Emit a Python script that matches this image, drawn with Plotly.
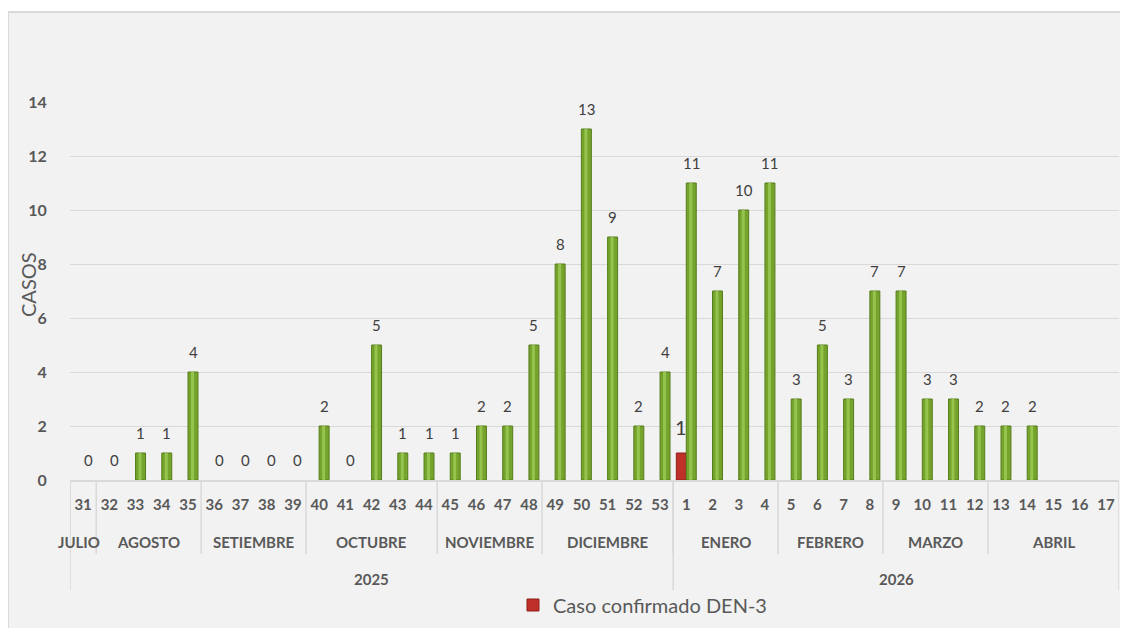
import plotly.graph_objects as go

# ---------------- data ----------------
weeks = ["31", "32", "33", "34", "35", "36", "37", "38", "39", "40", "41", "42",
         "43", "44", "45", "46", "47", "48", "49", "50", "51", "52", "53",
         "1", "2", "3", "4", "5", "6", "7", "8", "9", "10", "11", "12",
         "13", "14", "15", "16", "17"]
casos = [0, 0, 1, 1, 4, 0, 0, 0, 0, 2, 0, 5, 1, 1, 1, 2, 2, 5, 8, 13, 9, 2, 4,
         11, 7, 10, 11, 3, 5, 3, 7, 7, 3, 3, 2, 2, 2, None, None, None]
den3_weeks = ["1"]
den3_values = [1]
den3_name = "Caso confirmado DEN-3"

month_names = ["JULIO", "AGOSTO", "SETIEMBRE", "OCTUBRE", "NOVIEMBRE",
               "DICIEMBRE", "ENERO", "FEBRERO", "MARZO", "ABRIL"]
month_week_counts = [1, 4, 4, 5, 4, 5, 4, 4, 4, 5]
year_names = ["2025", "2026"]
year_week_counts = [23, 17]

y_ticks = [0, 2, 4, 6, 8, 10, 12, 14]

# ---------------- styling ----------------
FONT = "Lato"
GREEN = "#76a32c"
GREEN_EDGE = "#557d1c"
GREEN_HI = "#95c44e"
RED = "#c0302a"
GRID = "#d9d9d9"
TXT = "#595959"
LBL = "#404040"
BW = 0.38  # bar width in category units

# no outline on empty (zero) bars
edge_widths = [1 if v else 0 for v in casos]

fig = go.Figure()

# DEN-3 (red) bar, left of the category centre
fig.add_trace(go.Bar(
    x=den3_weeks, y=den3_values, name=den3_name,
    offset=-BW, width=BW,
    marker=dict(color=RED, line=dict(color="#8e1f1a", width=1)),
    showlegend=True, hoverinfo="x+y",
))

# main green bars
fig.add_trace(go.Bar(
    x=weeks, y=casos, name="Casos",
    offset=0, width=BW,
    marker=dict(color=GREEN, line=dict(color=GREEN_EDGE, width=edge_widths)),
    showlegend=False, hoverinfo="x+y",
))
# highlight stripe for the cylindrical look
fig.add_trace(go.Bar(
    x=weeks, y=casos, name="Casos",
    offset=BW * 0.3, width=BW * 0.3,
    marker=dict(color=GREEN_HI, line=dict(width=0)),
    showlegend=False, hoverinfo="skip",
))

annotations = []
# data labels for green bars (numeric category index positions)
for i, v in enumerate(casos):
    if v is None:
        continue
    annotations.append(dict(
        x=i, y=v, xref="x", yref="y", text=str(v), showarrow=False,
        xshift=5, yshift=20, yanchor="middle",
        font=dict(family=FONT, size=15, color=LBL)))
# data label for red bar
for w, v in zip(den3_weeks, den3_values):
    annotations.append(dict(
        x=weeks.index(w), y=v, xref="x", yref="y", text=str(v),
        showarrow=False, xshift=-5, yshift=26, yanchor="middle",
        font=dict(family=FONT, size=20, color=LBL)))

shapes = []
# background panel with border
shapes.append(dict(type="rect", xref="paper", yref="paper",
                   x0=-0.0591, x1=1.03, y0=-0.45, y1=1.238,
                   fillcolor="#f2f2f2", line=dict(color=GRID, width=2),
                   layer="below"))

# month labels and separators
MONTH_Y = (480 - 542) / 378
MONTH_SEP = (480 - 554) / 378
YEAR_Y = (480 - 579) / 378
YEAR_SEP = (480 - 590) / 378

start = 0
for name, n in zip(month_names, month_week_counts):
    annotations.append(dict(
        x=start + (n - 1) / 2, y=MONTH_Y, xref="x", yref="paper",
        text=f"<b>{name}</b>", showarrow=False, yanchor="middle",
        xshift=-4 if n == 1 else 0,
        font=dict(family=FONT, size=15, color=TXT)))
    shapes.append(dict(type="line", xref="x", yref="paper",
                       x0=start - 0.5, x1=start - 0.5, y0=0, y1=MONTH_SEP,
                       line=dict(color=GRID, width=1.5)))
    start += n

start = 0
for name, n in zip(year_names, year_week_counts):
    annotations.append(dict(
        x=start + (n - 1) / 2, y=YEAR_Y, xref="x", yref="paper",
        text=f"<b>{name}</b>", showarrow=False, yanchor="middle",
        font=dict(family=FONT, size=15, color=TXT)))
    shapes.append(dict(type="line", xref="x", yref="paper",
                       x0=start - 0.5, x1=start - 0.5, y0=0, y1=YEAR_SEP,
                       line=dict(color=GRID, width=1.5)))
    start += n
shapes.append(dict(type="line", xref="x", yref="paper",
                   x0=start - 0.5, x1=start - 0.5, y0=0, y1=YEAR_SEP,
                   line=dict(color=GRID, width=1.5)))

# y-axis title
annotations.append(dict(
    x=(28 - 70) / 1049, y=(480 - 285) / 378, xref="paper", yref="paper",
    text="CASOS", textangle=-90, showarrow=False,
    xanchor="center", yanchor="middle",
    font=dict(family=FONT, size=20, color=TXT)))

fig.update_layout(
    width=1120, height=620,
    margin=dict(l=62, r=9, t=94, b=148, autoexpand=False),
    paper_bgcolor="white", plot_bgcolor="rgba(0,0,0,0)",
    barmode="overlay",
    font=dict(family=FONT, color=TXT),
    showlegend=True,
    legend=dict(orientation="h", x=(513 - 70) / 1049, xanchor="left",
                y=(480 - 605) / 378, yanchor="middle",
                bgcolor="rgba(0,0,0,0)",
                font=dict(family=FONT, size=20, color=TXT)),
    annotations=annotations,
    shapes=shapes,
    xaxis=dict(type="category", categoryorder="array", categoryarray=weeks,
               range=[-0.5, len(weeks) - 0.5],
               showline=True, linecolor=GRID, linewidth=1.5,
               showgrid=False, zeroline=False,
               ticks="outside", ticklen=10, tickcolor="rgba(0,0,0,0)",
               tickfont=dict(family=FONT, size=15, color=TXT, weight="bold"),
               fixedrange=True),
    yaxis=dict(range=[0, 14], tickvals=y_ticks,
               showgrid=True, gridcolor=GRID, gridwidth=1,
               zeroline=False, showline=False,
               ticks="outside", ticklen=19, tickcolor="rgba(0,0,0,0)",
               tickfont=dict(family=FONT, size=16, color=TXT, weight="bold"),
               fixedrange=True),
)

fig.write_html("out.html")
